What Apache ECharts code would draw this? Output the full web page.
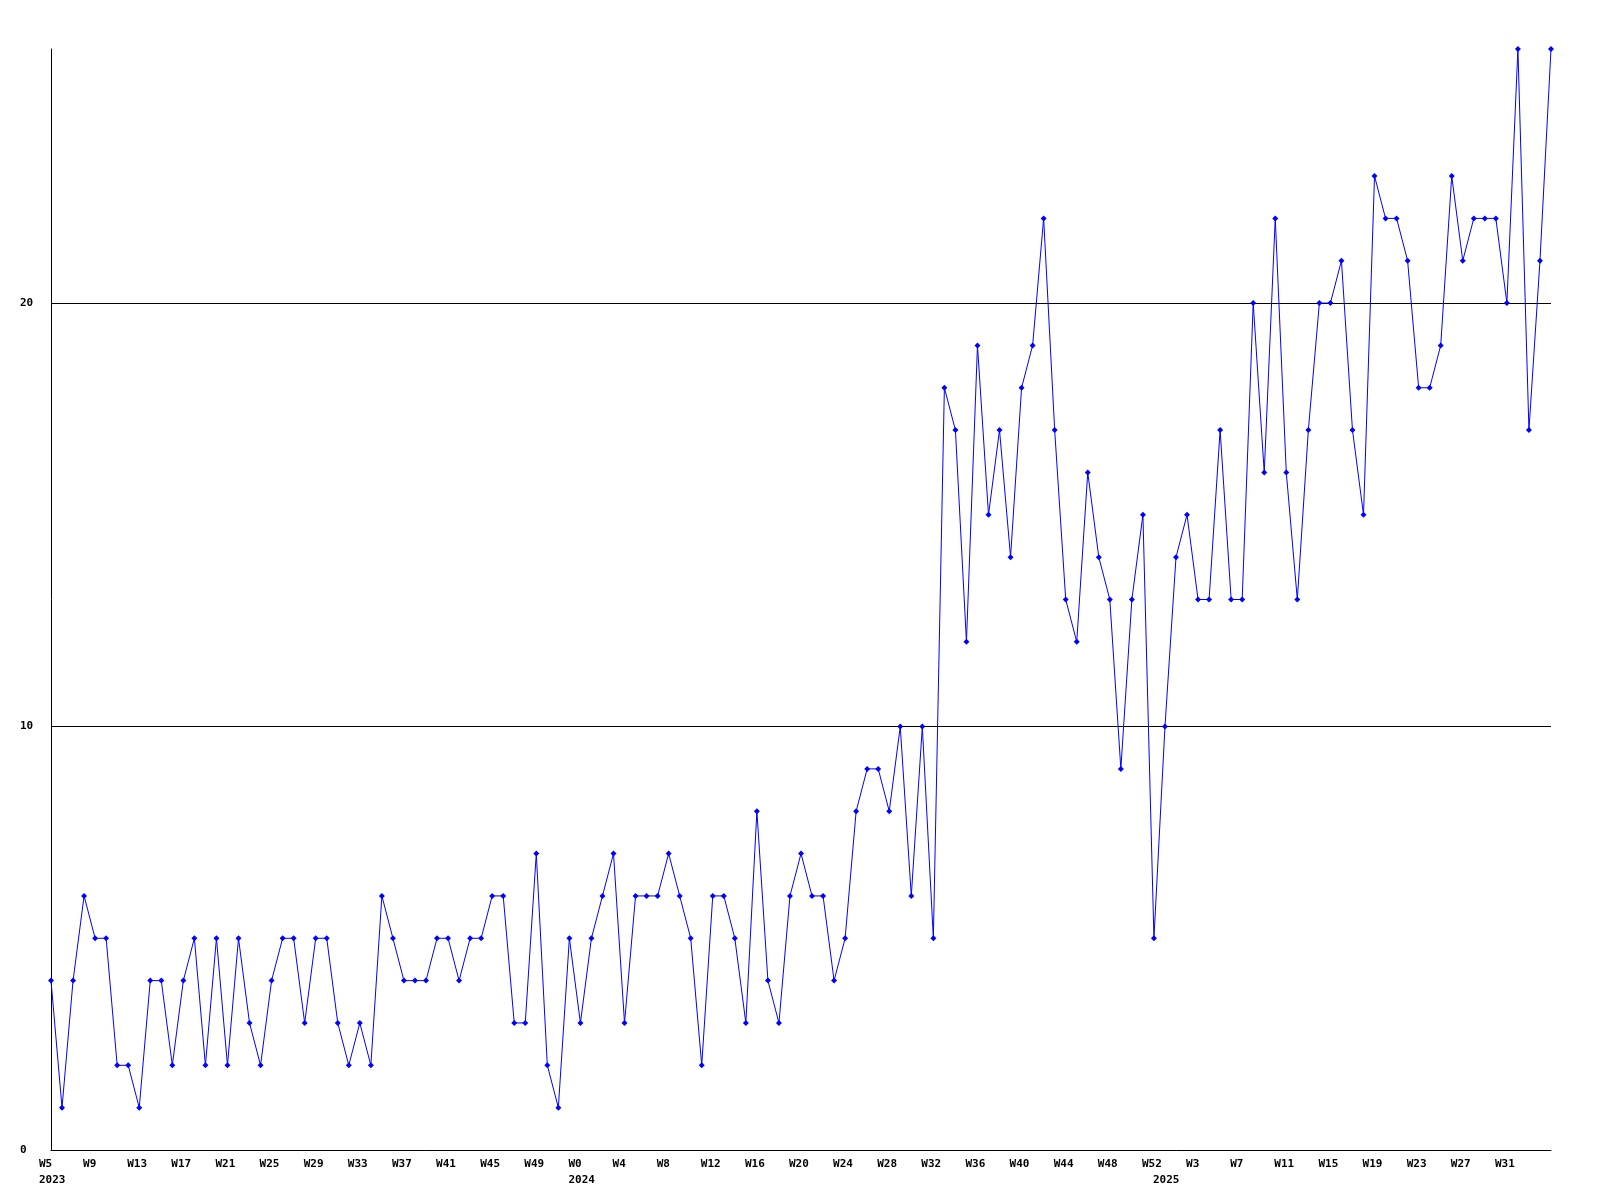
<!DOCTYPE html>
<html>
<head>
<meta charset="utf-8">
<script src="https://cdn.jsdelivr.net/npm/echarts@6/dist/echarts.min.js"></script>
<style>html,body{margin:0;padding:0;background:#fff}#c{width:1600px;height:1200px}</style>
</head>
<body>
<div id="c"></div>
<script>
// Week spans per year: [year, firstWeek, lastWeek]
const yearSpans = [[2023, 5, 52], [2024, 0, 52], [2025, 0, 35]];
// Weekly counts, one per week in order
const values = [
  4,1,4,6,5,5,2,2,1,4,4,2,4,5,2,5,2,5,3,2,4,5,5,3,5,5,3,2,3,2,6,5,4,4,4,5,
  5,4,5,5,6,6,3,3,7,2,1,5,3,5,6,7,3,6,6,6,7,6,5,2,6,6,5,3,8,4,3,6,7,
  6,6,4,5,8,9,9,8,10,6,10,5,
  18,17,12,19,15,17,14,18,19,22,17,13,12,16,14,13,9,13,15,5,
  10,14,15,13,13,17,13,13,20,16,22,16,13,17,20,20,21,17,15,23,22,22,21,18,18,19,23,21,22,22,22,20,26,17,21,26
];
const yMax = 26;
const yStep = 10;
const labelEvery = 4;

const weeks = [];
const years = [];
yearSpans.forEach(([y, a, b]) => {
  for (let w = a; w <= b; w++) {
    weeks.push('W' + w);
    years.push(w === a ? String(y) : '');
  }
});

const font = {fontFamily: 'DejaVu Sans Mono', fontWeight: 'bold', fontSize: 11, color: '#000'};
const rich = {a: Object.assign({width: 24, align: 'left'}, font)};

const chart = echarts.init(document.getElementById('c'), null, {renderer: 'canvas'});
chart.setOption({
  animation: false,
  backgroundColor: '#fff',
  grid: {left: 51, right: 49, top: 49, bottom: 50, containLabel: false},
  xAxis: [
    {
      type: 'category', data: weeks, boundaryGap: false,
      axisLine: {show: true, lineStyle: {color: '#000', width: 1}},
      axisTick: {show: false},
      splitLine: {show: false},
      axisLabel: Object.assign({
        interval: (i) => i % labelEvery === 0 && i < weeks.length - 1,
        margin: 9, align: 'center', rich: rich,
        formatter: (v) => '{a|' + v + '}'
      }, font)
    },
    {
      type: 'category', data: years, boundaryGap: false, position: 'bottom',
      axisLine: {show: false}, axisTick: {show: false}, splitLine: {show: false},
      axisLabel: Object.assign({
        interval: (i) => years[i] !== '',
        margin: 25, align: 'center', rich: rich,
        formatter: (v) => '{a|' + v + '}'
      }, font)
    }
  ],
  yAxis: {
    type: 'value', min: 0, max: yMax, interval: yStep,
    axisLine: {show: true, lineStyle: {color: '#000', width: 1}},
    axisTick: {show: false},
    splitLine: {show: true, showMinLine: false, showMaxLine: false, lineStyle: {color: '#000', width: 1}},
    axisLabel: Object.assign({showMaxLabel: false, align: 'left', margin: 31}, font)
  },
  series: [{
    type: 'line', data: values, xAxisIndex: 0,
    symbol: 'diamond', symbolSize: 6, showAllSymbol: true,
    lineStyle: {color: '#0000ff', width: 1},
    itemStyle: {color: '#0000ff'},
    z: 5
  }]
});
</script>
</body>
</html>
